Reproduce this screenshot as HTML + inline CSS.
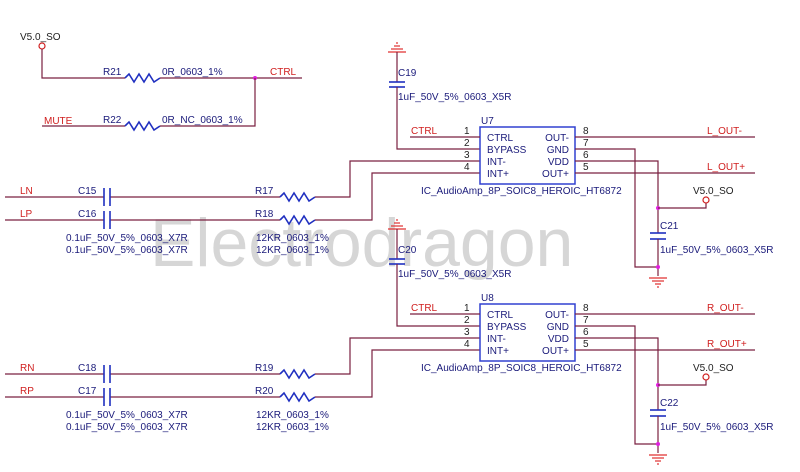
<!DOCTYPE html>
<html><head><meta charset="utf-8"><style>
html,body{margin:0;padding:0;background:#fff}
svg{display:block}
text{font-family:"Liberation Sans",sans-serif;font-size:10px}
.r{fill:#d02020}.b{fill:#1a1a7a}.k{fill:#222}
.w{stroke:#7a2040;stroke-width:1.2;fill:none}
.p{stroke:#e03030;stroke-width:1.2;fill:none}
.c{stroke:#2030c0;stroke-width:1.6;fill:none}
</style></head><body>
<svg width="800" height="472" viewBox="0 0 800 472" xmlns="http://www.w3.org/2000/svg">
<defs>
<g id="gnd"><line x1="-9" y1="0" x2="9" y2="0" class="p"/><line x1="-6" y1="3" x2="6" y2="3" class="p"/><line x1="-3" y1="6" x2="3" y2="6" class="p"/><line x1="-1" y1="9" x2="1" y2="9" class="p"/></g>
<g id="res"><polyline class="c" points="0,0 4,-4 9,4 14,-4 19,4 24,-4 29,4 35,0"/></g>
<g id="half">
<polyline class="w" points="5,197 104,197"/><polyline class="w" points="110,197 280,197"/>
<polyline class="w" points="5,220 104,220"/><polyline class="w" points="110,220 280,220"/>
<line x1="104" y1="188" x2="104" y2="206" class="c"/><line x1="110" y1="188" x2="110" y2="206" class="c"/>
<line x1="104" y1="211" x2="104" y2="229" class="c"/><line x1="110" y1="211" x2="110" y2="229" class="c"/>
<use href="#res" x="280" y="197"/><use href="#res" x="280" y="220"/>
<text x="66" y="241" class="b">0.1uF_50V_5%_0603_X7R</text><text x="66" y="253" class="b">0.1uF_50V_5%_0603_X7R</text>
<text x="256" y="241" class="b">12KR_0603_1%</text><text x="256" y="253" class="b">12KR_0603_1%</text>
<polyline class="w" points="315,197 350,197 350,161 480,161"/>
<polyline class="w" points="315,220 372,220 372,173 480,173"/>
<use href="#gnd" x="397" y="44" transform="rotate(180 397 48)"/>
<polyline class="w" points="397,52 397,82"/><line x1="389" y1="82" x2="405" y2="82" class="c"/><line x1="389" y1="87" x2="405" y2="87" class="c"/>
<polyline class="w" points="397,87 397,149 480,149"/>
<text x="398" y="100" class="b">1uF_50V_5%_0603_X5R</text>
<rect x="480" y="127" width="95" height="57" fill="none" stroke="#3040d0" stroke-width="1.5"/>
<polyline class="w" points="410,137 480,137"/><text x="411" y="134" class="r">CTRL</text>
<text x="464" y="134" class="k">1</text><text x="464" y="146" class="k">2</text><text x="464" y="158" class="k">3</text><text x="464" y="170" class="k">4</text>
<text x="487" y="141" class="b">CTRL</text><text x="487" y="153" class="b">BYPASS</text><text x="487" y="165" class="b">INT-</text><text x="487" y="177" class="b">INT+</text>
<text x="569" y="141" class="b" text-anchor="end">OUT-</text><text x="569" y="153" class="b" text-anchor="end">GND</text><text x="569" y="165" class="b" text-anchor="end">VDD</text><text x="569" y="177" class="b" text-anchor="end">OUT+</text>
<text x="583" y="134" class="k">8</text><text x="583" y="146" class="k">7</text><text x="583" y="158" class="k">6</text><text x="583" y="170" class="k">5</text>
<polyline class="w" points="575,137 755,137"/>
<polyline class="w" points="575,173 755,173"/>
<polyline class="w" points="575,149 635,149 635,267 658,267"/>
<polyline class="w" points="575,161 658,161 658,233"/>
<line x1="650" y1="233" x2="666" y2="233" class="c"/><line x1="650" y1="239" x2="666" y2="239" class="c"/>
<polyline class="w" points="658,239 658,276"/>
<use href="#gnd" x="658" y="278"/>
<circle cx="658" cy="267" r="2" fill="#e020e0"/><circle cx="658" cy="208" r="2" fill="#e020e0"/>
<polyline class="w" points="658,208 706,208 706,203"/>
<circle cx="706" cy="200" r="3" fill="none" stroke="#d02020" stroke-width="1.2"/>
<text x="693" y="194" class="k">V5.0_SO</text>
<text x="660" y="253" class="b">1uF_50V_5%_0603_X5R</text>
<text x="421" y="194" class="b">IC_AudioAmp_8P_SOIC8_HEROIC_HT6872</text>
</g>
</defs>
<text x="150" y="266" style="font-size:68px;fill:#d6d6d6">Electrodragon</text>

<text x="20" y="40" class="k">V5.0_SO</text>
<circle cx="42" cy="46" r="3" fill="none" stroke="#d02020" stroke-width="1.2"/>
<polyline class="w" points="42,49 42,78 125,78"/>
<use href="#res" x="125" y="78"/>
<polyline class="w" points="160,78 302,78"/>
<text x="103" y="75" class="b">R21</text><text x="162" y="75" class="b">0R_0603_1%</text>
<text x="270" y="75" class="r">CTRL</text>
<circle cx="255" cy="78" r="2" fill="#e020e0"/>
<text x="44" y="124" class="r">MUTE</text>
<polyline class="w" points="42,126 125,126"/><use href="#res" x="125" y="126"/>
<polyline class="w" points="160,126 255,126 255,78"/>
<text x="103" y="123" class="b">R22</text><text x="162" y="123" class="b">0R_NC_0603_1%</text>

<use href="#half"/>
<text x="20" y="194" class="r">LN</text><text x="20" y="217" class="r">LP</text>
<text x="78" y="194" class="b">C15</text><text x="78" y="217" class="b">C16</text>
<text x="255" y="194" class="b">R17</text><text x="255" y="217" class="b">R18</text>
<text x="398" y="76" class="b">C19</text><text x="481" y="124" class="b">U7</text>
<text x="707" y="134" class="r">L_OUT-</text><text x="707" y="170" class="r">L_OUT+</text>
<text x="660" y="229" class="b">C21</text>

<use href="#half" y="177"/>
<text x="20" y="371" class="r">RN</text><text x="20" y="394" class="r">RP</text>
<text x="78" y="371" class="b">C18</text><text x="78" y="394" class="b">C17</text>
<text x="255" y="371" class="b">R19</text><text x="255" y="394" class="b">R20</text>
<text x="398" y="253" class="b">C20</text><text x="481" y="301" class="b">U8</text>
<text x="707" y="311" class="r">R_OUT-</text><text x="707" y="347" class="r">R_OUT+</text>
<text x="660" y="406" class="b">C22</text>
</svg>
</body></html>
